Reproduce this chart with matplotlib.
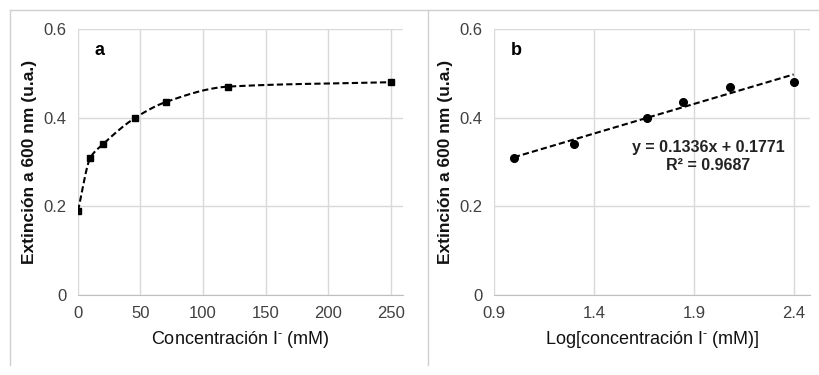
import matplotlib
matplotlib.use("Agg")
import matplotlib.pyplot as plt
from matplotlib.lines import Line2D
import numpy as np

plt.rcParams['font.family'] = ['Liberation Sans', 'DejaVu Sans']
plt.rcParams['mathtext.fontset'] = 'custom'
plt.rcParams['mathtext.rm'] = 'Liberation Sans'

# panel a
conc = [0, 10, 20, 46, 70, 120, 250]
ext = [0.19, 0.31, 0.34, 0.40, 0.435, 0.47, 0.48]
# panel b
log_conc = [1.0, 1.3, 1.663, 1.845, 2.079, 2.398]
ext_b = [0.31, 0.34, 0.40, 0.435, 0.47, 0.48]
slope, intercept = 0.1336, 0.1771
r2 = 0.9687

grid_c = '#d9d9d9'
tick_c = '#404040'


def smooth(x, y, n=40):
    # monotone cubic (Fritsch-Carlson) through the points
    x = np.asarray(x, float)
    y = np.asarray(y, float)
    h = np.diff(x)
    d = np.diff(y) / h
    m = np.zeros_like(y)
    m[0], m[-1] = d[0], d[-1]
    for i in range(1, len(x) - 1):
        if d[i - 1] * d[i] > 0:
            w1 = 2 * h[i] + h[i - 1]
            w2 = h[i] + 2 * h[i - 1]
            m[i] = (w1 + w2) / (w1 / d[i - 1] + w2 / d[i])
    xs, ys = [], []
    for i in range(len(h)):
        t = np.linspace(0, 1, n)
        h00 = 2 * t ** 3 - 3 * t ** 2 + 1
        h10 = t ** 3 - 2 * t ** 2 + t
        h01 = -2 * t ** 3 + 3 * t ** 2
        h11 = t ** 3 - t ** 2
        xs.extend(x[i] + t * h[i])
        ys.extend(h00 * y[i] + h10 * h[i] * m[i] + h01 * y[i + 1] + h11 * h[i] * m[i + 1])
    return xs, ys


def style(ax):
    for s in ['top', 'right', 'left']:
        ax.spines[s].set_visible(False)
    ax.spines['bottom'].set_color('#bfbfbf')
    ax.grid(True, color=grid_c, lw=1)
    ax.set_axisbelow(True)
    ax.tick_params(length=0, labelsize=12, colors=tick_c, pad=8)
    ax.set_ylim(0, 0.6)
    ax.set_yticks([0, 0.2, 0.4, 0.6])
    ax.set_yticklabels(['0', '0.2', '0.4', '0.6'])
    ax.set_ylabel('Extinción a 600 nm (u.a.)', fontsize=12.5, fontweight='bold',
                  color='#111111', labelpad=5)


fig = plt.figure(figsize=(8.19, 3.75), dpi=100)

ax1 = fig.add_axes([0.0952, 0.2133, 0.397, 0.7094])
sx, sy = smooth(conc, ext)
ax1.plot(sx, sy, ls=(0, (3, 1.5)), color='black', lw=1.5)
ax1.plot(conc, ext, ls='none', marker='s', color='black', ms=5)
style(ax1)
ax1.set_xlim(0, 260)
ax1.set_xticks([0, 50, 100, 150, 200, 250])
ax1.set_xlabel(r'Concentración I$^{\text{-}}$ (mM)', fontsize=13, color='#111111', labelpad=6)
ax1.text(0.052, 0.92, 'a', transform=ax1.transAxes, fontsize=13, fontweight='bold',
         va='center')

ax2 = fig.add_axes([0.603, 0.2133, 0.386, 0.7094])
lx = np.array([log_conc[0], log_conc[-1]])
ax2.plot(lx, slope * lx + intercept, ls=(0, (3, 1.5)), color='black', lw=1.5)
ax2.plot(log_conc, ext_b, ls='none', marker='o', color='black', ms=5.5)
style(ax2)
ax2.set_xlim(0.9, 2.48)
ax2.set_xticks([0.9, 1.4, 1.9, 2.4])
ax2.set_xlabel(r'Log[concentración I$^{\text{-}}$ (mM)]', fontsize=13, color='#111111', labelpad=6)
ax2.text(0.055, 0.92, 'b', transform=ax2.transAxes, fontsize=13, fontweight='bold',
         va='center')
ax2.text(0.678, 0.52, 'y = %.4fx + %.4f\nR² = %.4f' % (slope, intercept, r2),
         transform=ax2.transAxes, fontsize=11.5, fontweight='bold', ha='center',
         va='center', color='#222222', linespacing=1.25)

# panel frames
fr = '#d0d0d0'
fig.add_artist(Line2D([0.012, 1.0], [0.973, 0.973], color=fr, lw=1))
fig.add_artist(Line2D([0.012, 0.012], [0.027, 0.973], color=fr, lw=1))
fig.add_artist(Line2D([0.5226, 0.5226], [0.027, 0.973], color=fr, lw=1))

fig.savefig('out.png', dpi=100)
